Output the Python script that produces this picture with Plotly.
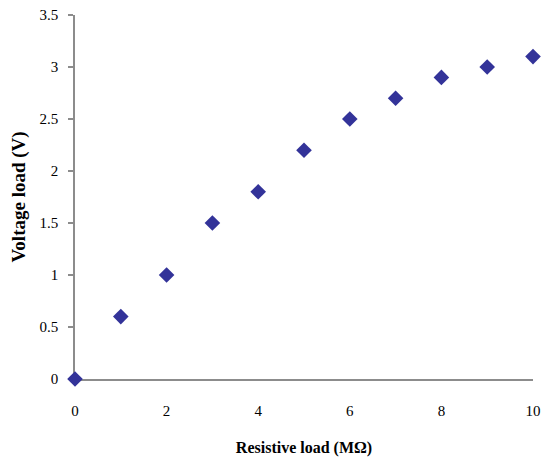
import plotly.graph_objects as go

resistance = [0, 1, 2, 3, 4, 5, 6, 7, 8, 9, 10]
voltage = [0, 0.6, 1.0, 1.5, 1.8, 2.2, 2.5, 2.7, 2.9, 3.0, 3.1]
x_ticks = [0, 2, 4, 6, 8, 10]
y_ticks = [0, 0.5, 1, 1.5, 2, 2.5, 3, 3.5]
y_tick_labels = ["0", "0.5", "1", "1.5", "2", "2.5", "3", "3.5"]

font = "Liberation Serif, Times New Roman, serif"

fig = go.Figure(go.Scatter(
    x=resistance, y=voltage, mode="markers",
    marker=dict(symbol="diamond", size=12, color="#333399"),
    cliponaxis=False,
))

# page body has an 8px margin, so the figure is offset by (8, 8) in the window
fig.update_layout(
    width=549, height=460,
    margin=dict(l=67, r=24, t=7, b=89),
    paper_bgcolor="white", plot_bgcolor="white",
    showlegend=False,
    font=dict(family=font, size=14, color="black"),
)
fig.update_xaxes(
    range=[0, 10], tickvals=x_ticks, ticks="", showgrid=False, zeroline=False,
    showline=True, linecolor="#8c8c8c", linewidth=1.5, automargin=False,
    layer="below traces",
    ticklabelstandoff=17, tickfont=dict(size=15), ticklabeloverflow="allow",
    title=dict(text="<b>Resistive load (MΩ)</b>", font=dict(size=16), standoff=24),
)
fig.update_yaxes(
    range=[0, 3.5], tickvals=y_ticks, ticktext=y_tick_labels,
    ticks="outside", ticklen=5, tickcolor="#8c8c8c", tickwidth=1.5,
    showgrid=False, zeroline=False, automargin=False,
    layer="below traces",
    showline=True, linecolor="#8c8c8c", linewidth=1.5,
    ticklabelstandoff=7, tickfont=dict(size=15), ticklabeloverflow="allow",
    title=dict(text="<b>Voltage load (V)</b>", font=dict(size=19), standoff=15),
)

fig.write_html("out.html")
